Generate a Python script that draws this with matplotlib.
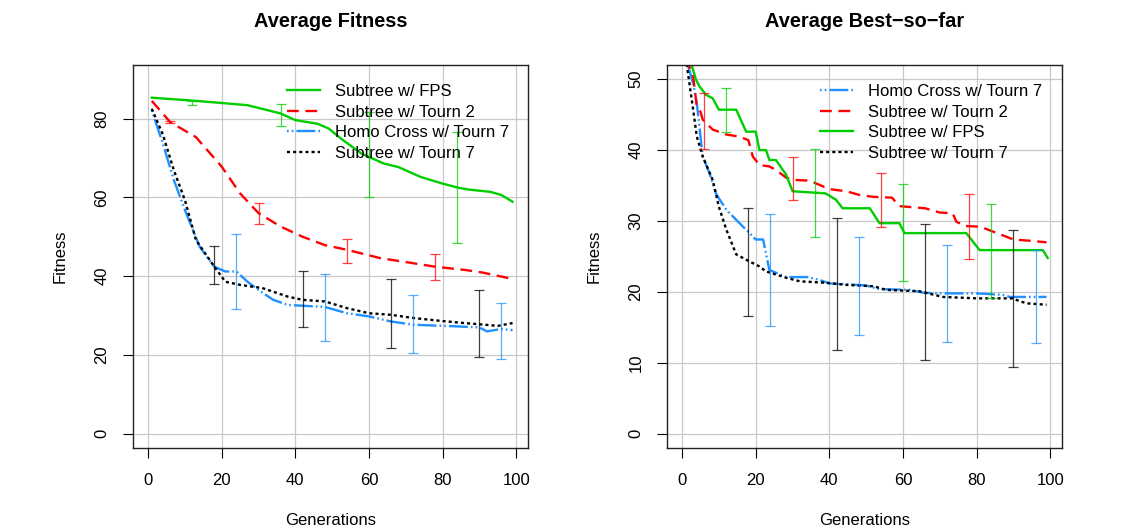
import numpy as np
import matplotlib
matplotlib.use("Agg")
import matplotlib.pyplot as plt

plt.rcParams['font.family'] = ['Liberation Sans', 'DejaVu Sans']

# ---- left panel: Average Fitness ----
fps_gen_l = [1, 13, 27, 36, 40, 46, 49, 53, 58, 64, 68, 74, 80, 84, 87, 93, 96, 99]
fps_l = [85.3, 84.5, 83.4, 81.3, 79.6, 78.7, 77.5, 74.5, 71.1, 68.6, 67.7, 65.2, 63.5, 62.5, 62.0, 61.4, 60.6, 58.9]

t2_gen_l = [1, 6, 13, 20, 25, 30, 36, 42, 48, 54, 63, 72, 78, 86, 91, 99]
t2_l = [84.5, 79.1, 75.3, 67.8, 61.0, 56.0, 52.6, 50.0, 47.9, 46.7, 44.6, 43.3, 42.4, 41.6, 40.9, 39.3]

homo_gen_l = [1, 4, 7, 10, 14, 18, 21, 24, 27, 30, 34, 38, 42, 48, 54, 60, 66, 72, 77, 83, 90, 92, 96, 99]
homo_l = [82.1, 73.7, 64.4, 56.8, 47.5, 42.4, 41.2, 41.2, 38.6, 36.5, 34.0, 32.7, 32.5, 32.2, 30.6, 29.8, 28.5, 27.7, 27.5, 27.3, 27.0, 26.0, 26.6, 26.3]

t7_gen_l = [1, 4, 7, 10, 13, 18, 21, 25, 31, 38, 42, 48, 54, 60, 66, 72, 78, 86, 90, 95, 99]
t7_l = [82.5, 76.0, 66.9, 59.3, 49.2, 42.4, 38.6, 37.8, 37.0, 34.8, 34.0, 33.6, 31.9, 30.6, 30.2, 29.4, 28.8, 28.1, 27.8, 27.4, 28.1]

# error bars (left)
t2_err_x = [6, 30, 54, 78]
fps_err_x = [12, 36, 60, 84]
t7_err_x = [18, 42, 66, 90]
homo_err_x = [24, 48, 72, 96]

t2_lo_l = [78.9, 53.2, 43.4, 39.1]
t2_hi_l = [79.5, 58.6, 49.4, 45.7]
fps_lo_l = [83.5, 78.0, 60.2, 48.4]
fps_hi_l = [84.5, 83.8, 81.7, 76.6]
t7_lo_l = [38.0, 27.1, 21.9, 19.6]
t7_hi_l = [47.7, 41.2, 39.2, 36.4]
homo_lo_l = [31.7, 23.6, 20.6, 19.0]
homo_hi_l = [50.7, 40.6, 35.3, 33.3]

# ---- right panel: Average Best-so-far ----
homo_gen_r = [1, 3, 4, 5, 5.6, 7.4, 9.2, 10, 12, 15.6, 18.3, 20, 22, 23.7, 28.3, 34, 37.3, 40, 44.6, 50, 53.6, 61.8, 65.4, 69, 80, 87, 89, 99]
homo_r = [53, 49.4, 46.6, 41.9, 39.1, 36.8, 33.9, 33.2, 31.6, 29.7, 28.3, 27.4, 27.4, 23.1, 22.1, 22.1, 21.7, 21.2, 21.1, 20.9, 20.4, 20.3, 19.9, 19.8, 19.8, 19.6, 19.3, 19.3]

t7_gen_r = [1, 3, 4, 5.6, 8.3, 10, 12, 14.7, 18.3, 21, 22.8, 28.3, 32, 39, 44.6, 52, 55.4, 64.5, 70.8, 80, 89.5, 93.5, 99]
t7_r = [53, 45.7, 41.9, 39.1, 35.8, 32.0, 28.8, 25.3, 24.3, 23.6, 22.9, 22.0, 21.5, 21.3, 21.0, 20.8, 20.3, 20.1, 19.3, 19.1, 19.1, 18.4, 18.2]

t2_gen_r = [1, 3, 4, 5, 5.6, 8.3, 12, 15.6, 18, 19.2, 21, 23.7, 25.5, 28.3, 30, 34.6, 37.3, 40, 44.6, 48, 52, 57, 59, 66, 70, 73.5, 74.5, 77, 81, 83.5, 90, 95, 99]
t2_r = [53, 50.4, 46.1, 45.4, 44.3, 42.9, 42.2, 41.9, 41.4, 39.1, 37.9, 37.7, 37.2, 36.1, 35.8, 35.7, 35.1, 34.5, 34.2, 33.7, 33.4, 33.3, 32.1, 31.8, 31.2, 31.1, 29.9, 29.3, 29.2, 28.7, 27.4, 27.2, 27.0]

fps_gen_r = [2, 3.8, 4.7, 6.5, 8.3, 10, 14.7, 17.4, 20, 21, 22.8, 23.7, 25.5, 28.3, 30, 39, 41.8, 43.6, 51, 53.6, 59, 60.4, 77.2, 79, 80.8, 98, 99.3]
fps_r = [53, 49.9, 49.0, 47.8, 47.3, 45.7, 45.7, 42.6, 42.6, 40.0, 40.0, 38.6, 38.6, 36.5, 34.2, 33.9, 33.0, 31.8, 31.8, 29.7, 29.7, 28.3, 28.3, 27.1, 25.9, 25.9, 24.8]

t2_lo_r = [40.1, 32.9, 29.2, 24.6]
t2_hi_r = [48.0, 39.0, 36.8, 33.8]
fps_lo_r = [42.6, 27.7, 21.5, 19.2]
fps_hi_r = [48.7, 40.1, 35.2, 32.4]
t7_lo_r = [16.6, 11.8, 10.4, 9.4]
t7_hi_r = [31.8, 30.4, 29.6, 28.8]
homo_lo_r = [15.2, 14.0, 13.0, 12.8]
homo_hi_r = [31.0, 27.8, 26.6, 25.9]

# styles
GREEN = '#00CD00'
RED = '#FF0000'
BLUE = '#1E90FF'
BLACK = '#000000'
LW = 1.7
sty = {
    'fps': dict(color=GREEN, ls='-', label='Subtree w/ FPS'),
    't2': dict(color=RED, ls=(0, (5.0, 2.8)), label='Subtree w/ Tourn 2'),
    'homo': dict(color=BLUE, ls=(0, (0.7, 1.3, 0.7, 1.3, 8, 1.3)), label='Homo Cross w/ Tourn 7'),
    't7': dict(color=BLACK, ls=(0, (1.3, 1.3)), label='Subtree w/ Tourn 7'),
}


def errbars(ax, x, lo, hi, color):
    lo = np.array(lo)
    hi = np.array(hi)
    mid = (lo + hi) / 2
    ax.errorbar(x, mid, yerr=(hi - lo) / 2, fmt='none', ecolor=color,
                elinewidth=0.9, capsize=3.6, capthick=0.9, alpha=0.75, zorder=2)


def style_axes(ax, yticks, ylim, title):
    ax.set_xlim(-4, 103.2)
    ax.set_ylim(*ylim)
    ax.set_xticks([0, 20, 40, 60, 80, 100])
    ax.set_yticks(yticks)
    ax.grid(True, color='#c8c8c8', lw=0.9, zorder=0)
    ax.set_axisbelow(True)
    for s in ax.spines.values():
        s.set_color('#222222')
        s.set_linewidth(1.0)
    ax.tick_params(axis='both', direction='out', length=7.2, width=0.8,
                   labelsize=12, colors='#000000')
    ax.tick_params(axis='x', pad=11)
    ax.tick_params(axis='y', pad=10)
    for lab in ax.get_yticklabels():
        lab.set_rotation(90)
        lab.set_va('center')
    ax.set_title(title, fontsize=14.4, fontweight='bold', pad=27)
    ax.set_xlabel('Generations', fontsize=12, va='center')
    ax.set_ylabel('Fitness', fontsize=12, va='center', ha='center')
    ax.xaxis.set_label_coords(0.5, -0.19)
    ax.yaxis.set_label_coords(-0.186, 0.5)


fig = plt.figure(figsize=(11.35, 5.31), dpi=100)
ax1 = fig.add_axes([0.1175, 0.1563, 0.3477, 0.7213])
ax2 = fig.add_axes([0.588, 0.1563, 0.3477, 0.7213])

# left
l_fps, = ax1.plot(fps_gen_l, fps_l, lw=LW, **sty['fps'])
l_t2, = ax1.plot(t2_gen_l, t2_l, lw=LW, **sty['t2'])
l_homo, = ax1.plot(homo_gen_l, homo_l, lw=LW, **sty['homo'])
l_t7, = ax1.plot(t7_gen_l, t7_l, lw=LW, **sty['t7'])
errbars(ax1, t2_err_x, t2_lo_l, t2_hi_l, RED)
errbars(ax1, fps_err_x, fps_lo_l, fps_hi_l, GREEN)
errbars(ax1, t7_err_x, t7_lo_l, t7_hi_l, BLACK)
errbars(ax1, homo_err_x, homo_lo_l, homo_hi_l, BLUE)
style_axes(ax1, [0, 20, 40, 60, 80], (-3.6, 93.6), 'Average Fitness')
ax1.legend(handles=[l_fps, l_t2, l_homo, l_t7], loc='upper left',
           bbox_to_anchor=(0.389, 0.95), frameon=False, fontsize=12,
           borderaxespad=0, borderpad=0, handlelength=2.0,
           handletextpad=0.9, labelspacing=0.33)

# right
r_homo, = ax2.plot(homo_gen_r, homo_r, lw=LW, **sty['homo'])
r_t2, = ax2.plot(t2_gen_r, t2_r, lw=LW, **sty['t2'])
r_fps, = ax2.plot(fps_gen_r, fps_r, lw=LW, **sty['fps'])
r_t7, = ax2.plot(t7_gen_r, t7_r, lw=LW, **sty['t7'])
errbars(ax2, t2_err_x, t2_lo_r, t2_hi_r, RED)
errbars(ax2, fps_err_x, fps_lo_r, fps_hi_r, GREEN)
errbars(ax2, t7_err_x, t7_lo_r, t7_hi_r, BLACK)
errbars(ax2, homo_err_x, homo_lo_r, homo_hi_r, BLUE)
style_axes(ax2, [0, 10, 20, 30, 40, 50], (-2, 52), u'Average Best\u2212so\u2212far')
ax2.legend(handles=[r_homo, r_t2, r_fps, r_t7], loc='upper left',
           bbox_to_anchor=(0.387, 0.95), frameon=False, fontsize=12,
           borderaxespad=0, borderpad=0, handlelength=2.0,
           handletextpad=0.9, labelspacing=0.33)

fig.savefig('out.png', dpi=100)
